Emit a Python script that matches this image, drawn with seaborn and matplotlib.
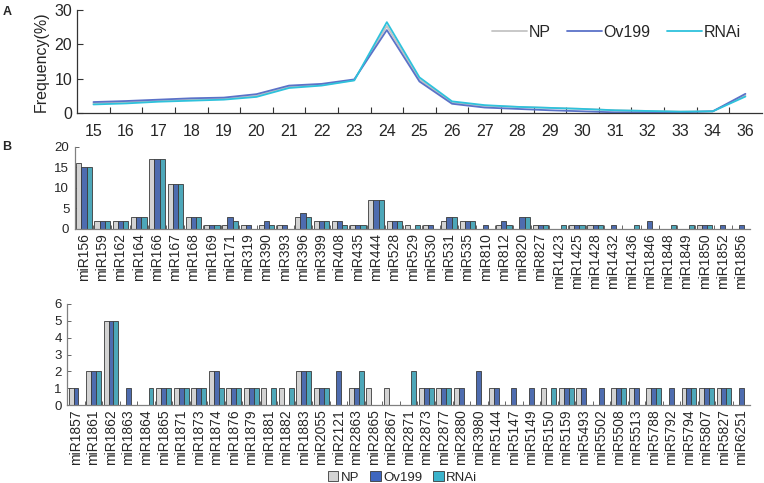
import numpy as np
import pandas as pd
import matplotlib
matplotlib.use("Agg")
import matplotlib.pyplot as plt
import seaborn as sns
from matplotlib.patches import Patch
from matplotlib.lines import Line2D

# ---------------- data ----------------
lengths = ["15", "16", "17", "18", "19", "20", "21", "22", "23", "24", "25",
           "26", "27", "28", "29", "30", "31", "32", "33", "34", "36"]
freq_np = [2.8, 3.1, 3.5, 3.9, 4.1, 5.0, 7.6, 8.2, 9.6, 25.4, 9.8,
           3.1, 2.1, 1.8, 1.5, 1.2, 0.8, 0.6, 0.4, 0.5, 5.2]
freq_ov = [3.2, 3.5, 3.9, 4.3, 4.5, 5.5, 8.0, 8.5, 9.8, 24.2, 9.2,
           2.7, 1.6, 1.2, 0.8, 0.5, 0.2, 0.2, 0.2, 0.5, 5.6]
freq_rnai = [2.5, 2.8, 3.3, 3.6, 3.9, 4.7, 7.3, 8.0, 9.5, 26.5, 10.4,
             3.4, 2.3, 1.8, 1.5, 1.2, 0.8, 0.6, 0.4, 0.5, 4.8]

mir_top = ["miR156", "miR159", "miR162", "miR164", "miR166", "miR167", "miR168",
           "miR169", "miR171", "miR319", "miR390", "miR393", "miR396", "miR399",
           "miR408", "miR435", "miR444", "miR528", "miR529", "miR530", "miR531",
           "miR535", "miR810", "miR812", "miR820", "miR827", "miR1423", "miR1425",
           "miR1428", "miR1432", "miR1436", "miR1846", "miR1848", "miR1849",
           "miR1850", "miR1852", "miR1856"]
top_np = [16, 2, 2, 3, 17, 11, 3, 1, 1, 1, 1, 1, 3, 2, 2, 1, 7, 2, 1, 1, 2,
          2, 0, 1, 0, 1, 0, 1, 1, 0, 0, 0, 0, 0, 1, 0, 0]
top_ov = [15, 2, 2, 3, 17, 11, 3, 1, 3, 1, 2, 1, 4, 2, 2, 1, 7, 2, 0, 1, 3,
          2, 1, 2, 3, 1, 0, 1, 1, 1, 0, 2, 0, 0, 1, 1, 1]
top_rnai = [15, 2, 2, 3, 17, 11, 3, 1, 2, 0, 1, 0, 3, 2, 1, 1, 7, 2, 1, 0, 3,
            2, 0, 1, 3, 1, 1, 1, 1, 0, 1, 0, 1, 1, 1, 0, 0]

mir_bot = ["miR1857", "miR1861", "miR1862", "miR1863", "miR1864", "miR1865",
           "miR1871", "miR1873", "miR1874", "miR1876", "miR1879", "miR1881",
           "miR1882", "miR1883", "miR2055", "miR2121", "miR2863", "miR2865",
           "miR2867", "miR2871", "miR2873", "miR2877", "miR2880", "miR3980",
           "miR5144", "miR5147", "miR5149", "miR5150", "miR5159", "miR5493",
           "miR5502", "miR5508", "miR5513", "miR5788", "miR5792", "miR5794",
           "miR5807", "miR5827", "miR6251"]
bot_np = [1, 2, 5, 0, 0, 1, 1, 1, 2, 1, 1, 1, 1, 2, 1, 0, 1, 1, 1, 0, 1, 1, 1,
          0, 1, 0, 0, 1, 1, 1, 0, 1, 1, 1, 0, 1, 1, 1, 0]
bot_ov = [1, 2, 5, 1, 0, 1, 1, 1, 2, 1, 1, 0, 0, 2, 1, 2, 1, 0, 0, 0, 1, 1, 1,
          2, 1, 1, 1, 0, 1, 1, 1, 1, 1, 1, 1, 1, 1, 1, 1]
bot_rnai = [0, 2, 5, 0, 1, 1, 1, 1, 1, 1, 1, 1, 1, 2, 1, 0, 2, 0, 0, 2, 1, 1, 0,
            0, 0, 0, 0, 1, 1, 0, 0, 1, 0, 1, 0, 1, 1, 1, 0]

groups = ["NP", "Ov199", "RNAi"]
line_colors = {"NP": "#c4c4c4", "Ov199": "#5b72c8", "RNAi": "#2ec2dc"}
bar_colors = {"NP": "#d3d3d3", "Ov199": "#3e66bf", "RNAi": "#3bb3cb"}

# ---------------- frames ----------------
df_line = pd.DataFrame({
    "length": lengths * 3,
    "freq": freq_np + freq_ov + freq_rnai,
    "group": [g for g in groups for _ in lengths],
})

def bar_frame(names, a, b, c):
    return pd.DataFrame({
        "mir": names * 3,
        "count": a + b + c,
        "group": [g for g in groups for _ in names],
    })

df_top = bar_frame(mir_top, top_np, top_ov, top_rnai)
df_bot = bar_frame(mir_bot, bot_np, bot_ov, bot_rnai)

# ---------------- figure ----------------
sns.set_theme(style="white")
plt.rcParams["font.family"] = ["Liberation Sans", "DejaVu Sans"]

fig = plt.figure(figsize=(7.64, 4.83), dpi=100)
axA = fig.add_axes([0.101, 0.766, 0.896, 0.213])
axB1 = fig.add_axes([0.098, 0.526, 0.884, 0.170])
axB2 = fig.add_axes([0.088, 0.161, 0.894, 0.210])

# ---- panel A ----
sns.lineplot(data=df_line, x="length", y="freq", hue="group", palette=line_colors,
             hue_order=groups, sort=False, linewidth=1.3, legend=False, ax=axA)
axA.set_xlim(-0.5, len(lengths) - 0.5)
axA.set_ylim(0, 30)
axA.set_yticks([0, 10, 20, 30])
axA.set_xticks(range(len(lengths)))
axA.set_xticklabels(lengths)
axA.set_xticks(np.arange(0.5, len(lengths) - 1, 1), minor=True)
axA.tick_params(axis="x", which="major", length=0, labelsize=11.5, pad=8)
axA.tick_params(axis="x", which="minor", direction="in", length=4, width=0.8,
                color="#333333", bottom=True)
axA.tick_params(axis="y", direction="in", length=4, width=0.8, labelsize=11.5,
                color="#333333", left=True)
axA.set_xlabel("")
axA.set_ylabel("Frequency(%)", fontsize=11.5)
for s in ["top", "right"]:
    axA.spines[s].set_visible(False)
for s in ["left", "bottom"]:
    axA.spines[s].set_color("#333333")
    axA.spines[s].set_linewidth(0.9)
handles = [Line2D([0], [0], color=line_colors[g], lw=1.3) for g in groups]
axA.legend(handles, groups, ncol=3, frameon=False, loc="upper right",
           bbox_to_anchor=(0.99, 1.0), fontsize=11.5, handlelength=2.2,
           handletextpad=0.1, columnspacing=1.0)

# ---- panel B ----
def bar_panel(ax, df, names, ymax, step):
    sns.barplot(data=df, x="mir", y="count", hue="group", hue_order=groups,
                palette=bar_colors, width=0.85, gap=0, edgecolor="#3a3a3a",
                linewidth=0.6, legend=False, ax=ax)
    ax.set_xlim(-0.5, len(names) - 0.5)
    ax.set_ylim(0, ymax)
    ax.set_yticks(np.arange(0, ymax + 0.01, step))
    ax.set_xticks(np.arange(0.5, len(names) - 1, 1), minor=True)
    ax.tick_params(axis="x", which="major", length=0, labelsize=10, rotation=90, pad=3)
    ax.tick_params(axis="x", which="minor", direction="in", length=3, width=0.7,
                   color="#666666", bottom=True)
    ax.tick_params(axis="y", direction="in", length=3, width=0.7, labelsize=9.5,
                   color="#666666", left=True, pad=4)
    ax.set_xlabel("")
    ax.set_ylabel("")
    for s in ["top", "right"]:
        ax.spines[s].set_visible(False)
    for s in ["left", "bottom"]:
        ax.spines[s].set_color("#808080")
        ax.spines[s].set_linewidth(0.9)

bar_panel(axB1, df_top, mir_top, 20, 5)
bar_panel(axB2, df_bot, mir_bot, 6, 1)

phandles = [Patch(facecolor=bar_colors[g], edgecolor="#3a3a3a", linewidth=0.6) for g in groups]
fig.legend(phandles, groups, ncol=3, frameon=False, loc="center",
           bbox_to_anchor=(0.527, 0.012), fontsize=9.5, handlelength=0.8,
           handleheight=0.8, handletextpad=0.2, columnspacing=0.8)

fig.text(0.003, 0.975, "A", fontsize=9, fontweight="bold", va="center")
fig.text(0.003, 0.695, "B", fontsize=9, fontweight="bold", va="center")

fig.savefig("out.png", dpi=100)
